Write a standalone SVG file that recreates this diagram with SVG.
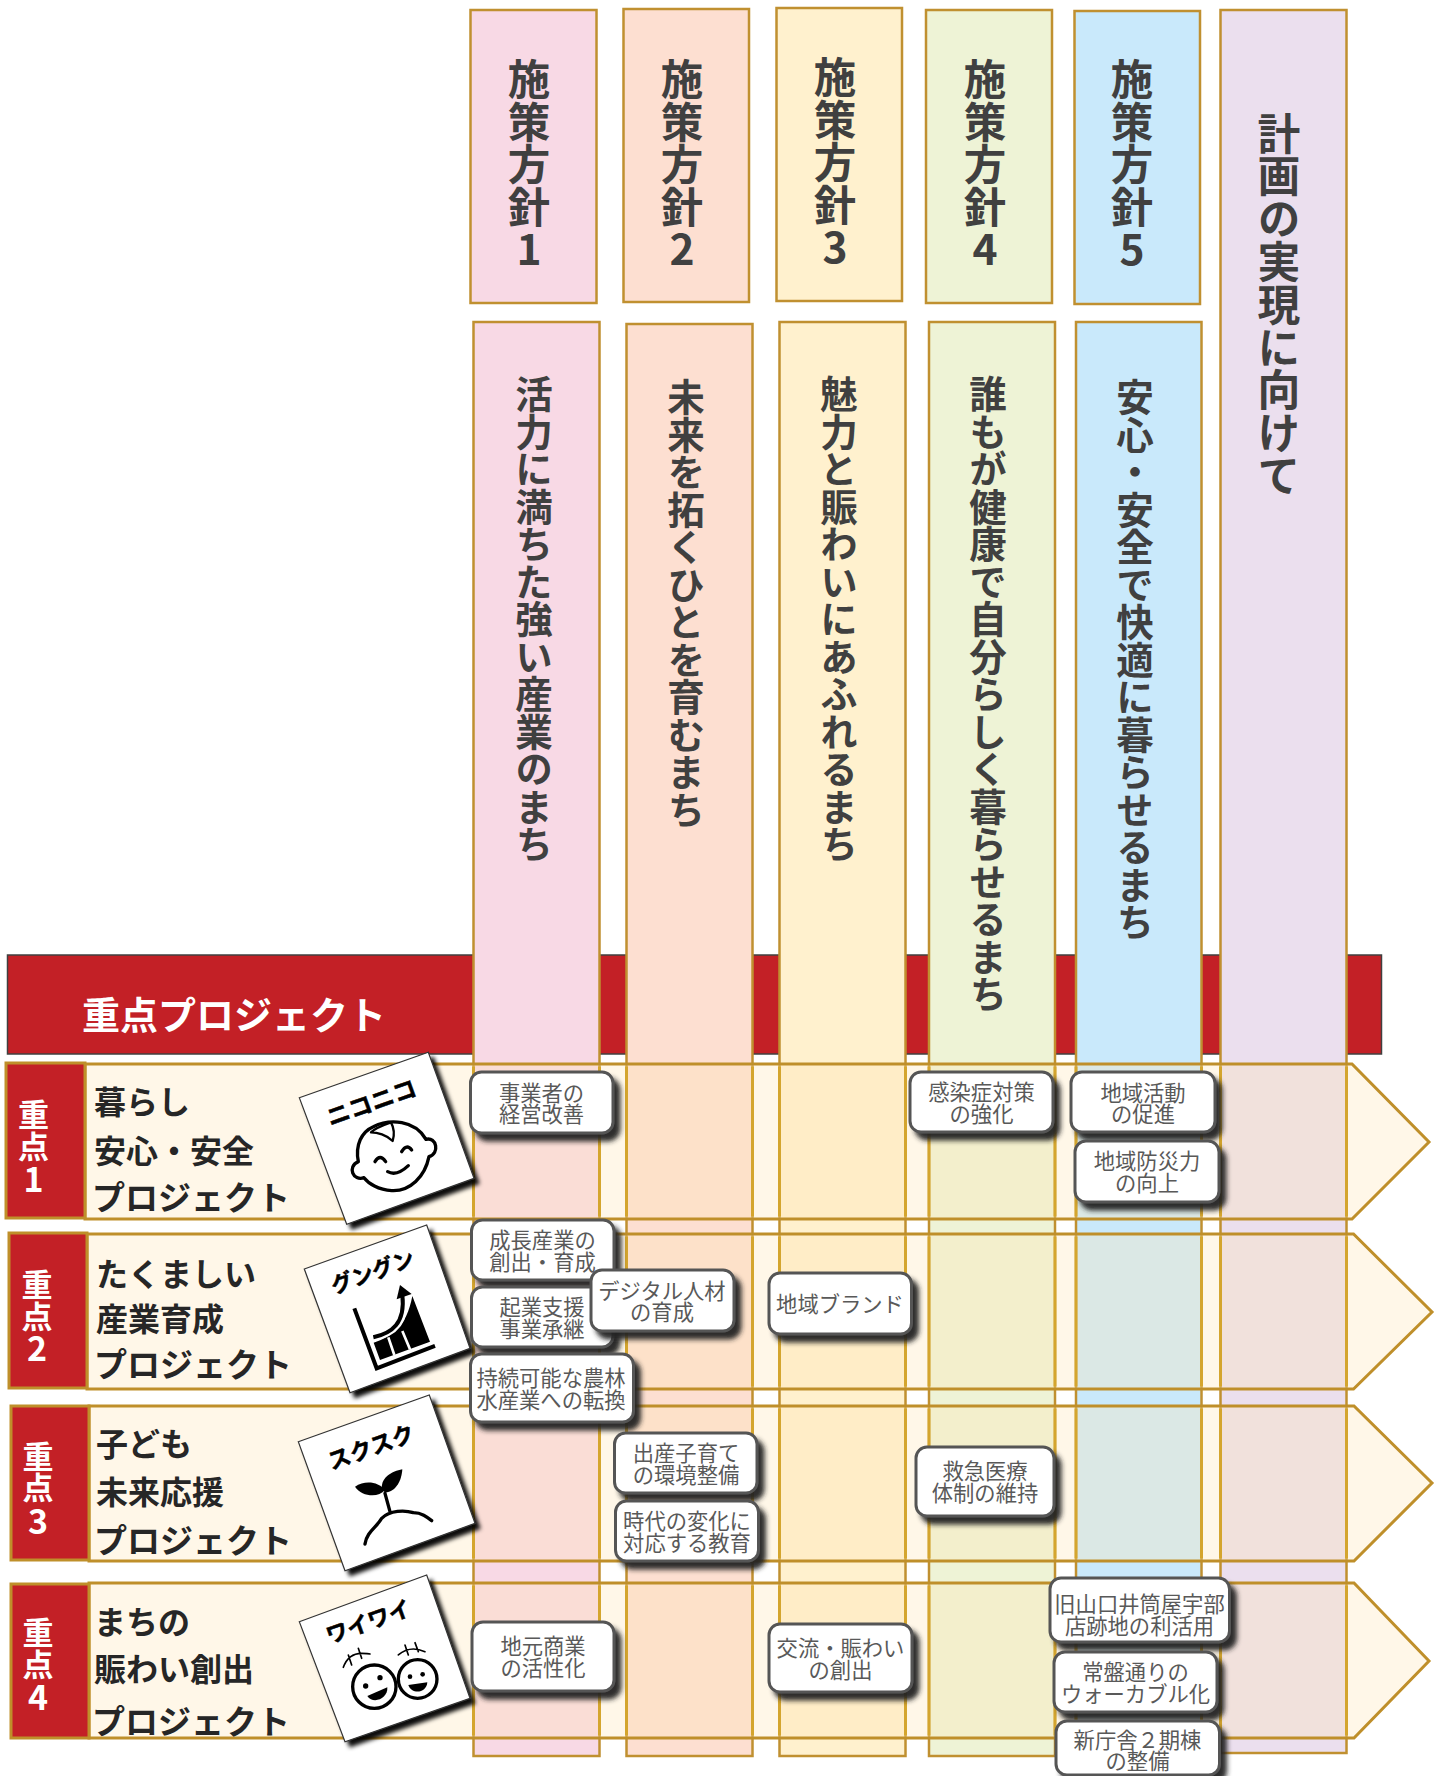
<svg xmlns="http://www.w3.org/2000/svg" width="1440" height="1776" viewBox="0 0 1440 1776">
<style>
text{font-family:"Noto Sans CJK JP","Noto Sans",sans-serif}
.col{stroke:#C09030;stroke-width:2.5}
.c1{fill:#F8D9E5}.c2{fill:#FDDFD1}.c3{fill:#FFF1CE}.c4{fill:#EEF3D6}.c5{fill:#C9E9FB}.c6{fill:#EBDFEE}
.vh{writing-mode:vertical-rl;text-orientation:upright;font-weight:700;fill:#404040;font-size:42.500px}
.vl{writing-mode:vertical-rl;text-orientation:upright;font-weight:700;fill:#404040;font-size:42.800px}
.vs{writing-mode:vertical-rl;text-orientation:upright;font-weight:700;fill:#404040;font-size:37.500px}
.band{fill:#FFE7B9;fill-opacity:.33;stroke:none}
.bandl{fill:none;stroke:#BF8F2A;stroke-width:3}
.red{fill:#C32026;stroke:#BF8F2A;stroke-width:3}
.rt{fill:#fff;font-weight:700;font-size:31px;text-anchor:middle}
.rd{fill:#fff;font-weight:700;font-size:34px;text-anchor:middle}
.lb{fill:#262626;font-weight:700;font-size:32px}
.lp{fill:#262626;font-weight:700;font-size:33px}
.edge{fill:none;stroke:#D4A52E;stroke-width:3}
.card{fill:#fff;stroke:#333;stroke-width:1.2;filter:url(#cs)}
.ct{font-weight:700;fill:#000;stroke:#000;stroke-width:1.500;text-anchor:middle}
.ic{fill:none;stroke:#000;stroke-width:10;stroke-linecap:round;stroke-linejoin:round}
.box{fill:#fff;stroke:#555;stroke-width:3;filter:url(#ns)}
.nt{fill:#595959;font-size:21.3px;text-anchor:middle}
</style>
<defs>
<filter id="cs" x="-20%" y="-20%" width="150%" height="150%"><feDropShadow dx="5" dy="5" stdDeviation="2" flood-color="#000" flood-opacity=".95"/></filter>
<filter id="ns" x="-20%" y="-30%" width="150%" height="170%"><feDropShadow dx="6" dy="7" stdDeviation="2.5" flood-color="#222" flood-opacity=".95"/></filter>
<path id="edges" class="edge" d="M473.500 0V150M599.500 0V150M626.500 0V150M752.500 0V150M779.500 0V150M905.500 0V150M929 0V150M1055 0V150M1076 0V150M1201.500 0V150M1220.500 0V150M1346.500 0V150"/>
</defs>
<rect width="1440" height="1776" fill="#fff"/>
<g id="banner"><rect x="7.500" y="955" width="1374" height="99" fill="#C32026" stroke="#404040" stroke-width="1.500"/>
<text x="82" y="1029" font-size="38" font-weight="700" fill="#fff">重点プロジェクト</text></g>
<g id="policy-headers">
<g id="h1"><rect class="col c1" x="470.500" y="10" width="126" height="293"/><text class="vh" x="529" y="58">施策方針1</text></g>
<g id="h2"><rect class="col c2" x="623.500" y="9" width="125.500" height="293"/><text class="vh" x="682" y="58">施策方針2</text></g>
<g id="h3"><rect class="col c3" x="776.500" y="8" width="125.500" height="293"/><text class="vh" x="835" y="56">施策方針3</text></g>
<g id="h4"><rect class="col c4" x="926" y="10" width="126" height="293"/><text class="vh" x="985" y="58">施策方針4</text></g>
<g id="h5"><rect class="col c5" x="1074.500" y="11" width="125.500" height="293"/><text class="vh" x="1132" y="58">施策方針5</text></g>
</g>
<g id="policy-columns">
<g id="p1"><rect class="col c1" x="473.500" y="322" width="126" height="1434"/><text class="vs" x="534" y="375">活力に満ちた強い産業のまち</text></g>
<g id="p2"><rect class="col c2" x="626.500" y="324" width="126" height="1432"/><text class="vs" x="686" y="378">未来を拓くひとを育むまち</text></g>
<g id="p3"><rect class="col c3" x="779.500" y="322" width="126" height="1434"/><text class="vs" x="839" y="375">魅力と賑わいにあふれるまち</text></g>
<g id="p4"><rect class="col c4" x="929" y="322" width="126" height="1434"/><text class="vs" x="988" y="375">誰もが健康で自分らしく暮らせるまち</text></g>
<g id="p5"><rect class="col c5" x="1076" y="322" width="125.500" height="1434"/><text class="vs" x="1135" y="378">安心・安全で快適に暮らせるまち</text></g>
<g id="p6"><rect class="col c6" x="1220.500" y="10" width="126" height="1743"/><text class="vl" x="1279" y="112">計画の実現に向けて</text></g>
</g>
<g id="bands">
<g id="band1"><polygon class="band" points="85,1064 1352,1064 1429,1142 1352,1219 85,1219"/><use href="#edges" transform="translate(0 1066.500)"/><polygon class="bandl" points="85,1064 1352,1064 1429,1142 1352,1219 85,1219"/><rect class="red" x="6" y="1063" width="79" height="155"/>
<text class="rt" x="33.500" y="1126">重</text><text class="rt" x="33.500" y="1158">点</text><text class="rd" x="33.500" y="1192">1</text>
<text class="lb" x="94" y="1114">暮らし</text><text class="lb" x="94" y="1163">安心・安全</text><text class="lp" x="92" y="1210">プロジェクト</text></g>
<g id="band2"><polygon class="band" points="87,1234 1353.500,1234 1432,1312 1353.500,1389 87,1389"/><use href="#edges" transform="translate(0 1236.500)"/><polygon class="bandl" points="87,1234 1353.500,1234 1432,1312 1353.500,1389 87,1389"/><rect class="red" x="9" y="1233" width="78" height="155"/>
<text class="rt" x="37" y="1296">重</text><text class="rt" x="37" y="1328">点</text><text class="rd" x="37" y="1361">2</text>
<text class="lb" x="96" y="1286">たくましい</text><text class="lb" x="96" y="1331">産業育成</text><text class="lp" x="94" y="1377">プロジェクト</text></g>
<g id="band3"><polygon class="band" points="89,1406 1354,1406 1432,1483 1354,1561 89,1561"/><use href="#edges" transform="translate(0 1408.500)"/><polygon class="bandl" points="89,1406 1354,1406 1432,1483 1354,1561 89,1561"/><rect class="red" x="11" y="1406" width="78" height="154"/>
<text class="rt" x="38" y="1468">重</text><text class="rt" x="38" y="1499">点</text><text class="rd" x="38" y="1534">3</text>
<text class="lb" x="96" y="1456">子ども</text><text class="lb" x="96" y="1504">未来応援</text><text class="lp" x="94" y="1553">プロジェクト</text></g>
<g id="band4"><polygon class="band" points="89,1583 1354,1583 1429,1661 1354,1738 89,1738"/><use href="#edges" transform="translate(0 1585.500)"/><polygon class="bandl" points="89,1583 1354,1583 1429,1661 1354,1738 89,1738"/><rect class="red" x="11" y="1584" width="78" height="154"/>
<text class="rt" x="38" y="1644">重</text><text class="rt" x="38" y="1676">点</text><text class="rd" x="38" y="1710">4</text>
<text class="lb" x="94" y="1634">まちの</text><text class="lb" x="94" y="1681">賑わい創出</text><text class="lp" x="92" y="1734">プロジェクト</text></g>
</g>
<g id="card1"><polygon class="card" points="299.300,1097.700 428.300,1052.300 474,1178.300 346.700,1224.300"/>
<g transform="translate(290 1045) scale(.3333)">
<text class="ct" transform="translate(253 197) rotate(-19.500)" font-size="70">ニコニコ</text>
<path class="ic" d="M408 283C440 275 450 325 417 335C405 395 360 440 305 437C265 435 235 415 222 398C190 410 170 365 205 350C195 300 215 260 250 245C300 220 375 225 408 283Z"/>
<path class="ic" style="stroke-width:7" d="M243 262C262 262 290 270 308 288C315 265 310 245 303 232M243 262C255 250 280 240 303 232"/>
<path class="ic" d="M255 350Q270 325 287 350M335 320Q350 295 365 315M293 380Q320 395 355 362"/></g></g>
<g id="card2"><polygon class="card" points="304.300,1269 426.700,1225 470,1348.300 350,1392.700"/>
<g transform="translate(295 1220) scale(.3333)">
<text class="ct" transform="translate(241 178) rotate(-19.800)" font-size="65">グングン</text>
<path d="M236 368C290 350 335 320 352 228L405 365L255 420Z" fill="#000"/>
<path d="M280 352L298 405M322 333L345 388" fill="none" stroke="#fff" stroke-width="8"/>
<path d="M228 352C290 342 335 310 323 225" fill="none" stroke="#fff" stroke-width="24"/>
<path d="M235 352C290 340 332 310 322 225" fill="none" stroke="#000" stroke-width="12"/>
<polygon points="315,195 350,222 305,238" fill="#000"/>
<path d="M178 265L245 445L420 378" fill="none" stroke="#000" stroke-width="12"/></g></g>
<g id="card3"><polygon class="card" points="298.300,1441.700 429.300,1395 475,1523.300 345,1570.700"/>
<g transform="translate(290 1390) scale(.3333)">
<text class="ct" transform="translate(252 195) rotate(-19.500)" font-size="68">スクスク</text>
<path d="M195 290C225 270 265 275 285 300C265 325 215 320 195 290Z" fill="#000"/>
<path d="M275 295C275 260 305 245 337 238C335 270 320 305 285 308Z" fill="#000"/>
<path class="ic" d="M285 310L300 365M225 462C230 425 262 410 275 385C300 360 345 360 370 368C395 368 410 380 425 392"/></g></g>
<g id="card4"><polygon class="card" points="299.300,1621.700 426.700,1575 470,1698.300 345,1741.700"/>
<g transform="translate(290 1570) scale(.3333)">
<text class="ct" transform="translate(243 178) rotate(-19.500)" font-size="66">ワイワイ</text>
<circle class="ic" cx="253" cy="350" r="65"/><circle class="ic" cx="383" cy="327" r="58"/>
<circle cx="227" cy="348" r="8"/><circle cx="270" cy="323" r="8"/><circle cx="360" cy="320" r="7"/><circle cx="398" cy="313" r="7"/>
<path d="M232 378L292 352C295 385 250 405 232 378Z"/><path d="M355 345L412 337C410 370 365 375 355 345Z"/>
<path class="ic" style="stroke-width:5" d="M160 292Q175 250 215 250Q235 250 240 252M175 255L185 285M205 235L215 265M325 255Q360 225 405 245M345 225L355 255M375 218L385 245"/></g></g>
<g id="connectors"></g>
<g id="nodes">
<g id="n1"><rect class="box" x="470.500" y="1072" width="142.500" height="61" rx="11"/><text class="nt" y="1101"><tspan x="541.500">事業者の</tspan><tspan x="541.500" dy="21">経営改善</tspan></text></g>
<g id="n2"><rect class="box" x="471.500" y="1220" width="142.500" height="60" rx="11"/><text class="nt" y="1248"><tspan x="542.500">成長産業の</tspan><tspan x="542.500" dy="21.500">創出・育成</tspan></text></g>
<g id="n3"><rect class="box" x="471.500" y="1287" width="141.500" height="60" rx="11"/><text class="nt" y="1315"><tspan x="542">起業支援</tspan><tspan x="542" dy="21.500">事業承継</tspan></text></g>
<g id="n4"><rect class="box" x="591" y="1270" width="143" height="61" rx="11"/><text class="nt" y="1299"><tspan x="662">デジタル人材</tspan><tspan x="662" dy="21">の育成</tspan></text></g>
<g id="n5"><rect class="box" x="470.500" y="1354" width="163" height="68" rx="11"/><text class="nt" y="1386"><tspan x="551">持続可能な農林</tspan><tspan x="551" dy="22">水産業への転換</tspan></text></g>
<g id="n6"><rect class="box" x="614.500" y="1433" width="142.500" height="60" rx="11"/><text class="nt" y="1461"><tspan x="686">出産子育て</tspan><tspan x="686" dy="21.500">の環境整備</tspan></text></g>
<g id="n7"><rect class="box" x="615.500" y="1501" width="143" height="60" rx="11"/><text class="nt" y="1529"><tspan x="687">時代の変化に</tspan><tspan x="687" dy="21.500">対応する教育</tspan></text></g>
<g id="n8"><rect class="box" x="472" y="1622" width="142" height="69" rx="11"/><text class="nt" y="1654"><tspan x="543">地元商業</tspan><tspan x="543" dy="21.500">の活性化</tspan></text></g>
<g id="n9"><rect class="box" x="910" y="1072" width="143" height="60" rx="11"/><text class="nt" y="1100"><tspan x="981.500">感染症対策</tspan><tspan x="981.500" dy="21.500">の強化</tspan></text></g>
<g id="n10"><rect class="box" x="1071" y="1072" width="144" height="60" rx="11"/><text class="nt" y="1101"><tspan x="1143">地域活動</tspan><tspan x="1143" dy="21">の促進</tspan></text></g>
<g id="n11"><rect class="box" x="1075" y="1141" width="144" height="61" rx="11"/><text class="nt" y="1169"><tspan x="1147">地域防災力</tspan><tspan x="1147" dy="22">の向上</tspan></text></g>
<g id="n12"><rect class="box" x="769" y="1273" width="142.500" height="61" rx="11"/><text class="nt" x="840" y="1312">地域ブランド</text></g>
<g id="n13"><rect class="box" x="916" y="1447" width="138" height="69" rx="11"/><text class="nt" y="1479"><tspan x="985">救急医療</tspan><tspan x="985" dy="22">体制の維持</tspan></text></g>
<g id="n14"><rect class="box" x="769" y="1624" width="143" height="68" rx="11"/><text class="nt" y="1656"><tspan x="840.500">交流・賑わい</tspan><tspan x="840.500" dy="22">の創出</tspan></text></g>
<g id="n15"><rect class="box" x="1050" y="1578" width="179.500" height="64" rx="11"/><text class="nt" y="1612"><tspan x="1139.500">旧山口井筒屋宇部</tspan><tspan x="1139.500" dy="22">店跡地の利活用</tspan></text></g>
<g id="n16"><rect class="box" x="1054" y="1652" width="163" height="60" rx="11"/><text class="nt" y="1680"><tspan x="1135.500">常盤通りの</tspan><tspan x="1135.500" dy="22">ウォーカブル化</tspan></text></g>
<g id="n17"><rect class="box" x="1056" y="1721" width="163.500" height="54" rx="11"/><text class="nt" y="1748"><tspan x="1137.500">新庁舎２期棟</tspan><tspan x="1137.500" dy="21">の整備</tspan></text></g>
</g>
</svg>
